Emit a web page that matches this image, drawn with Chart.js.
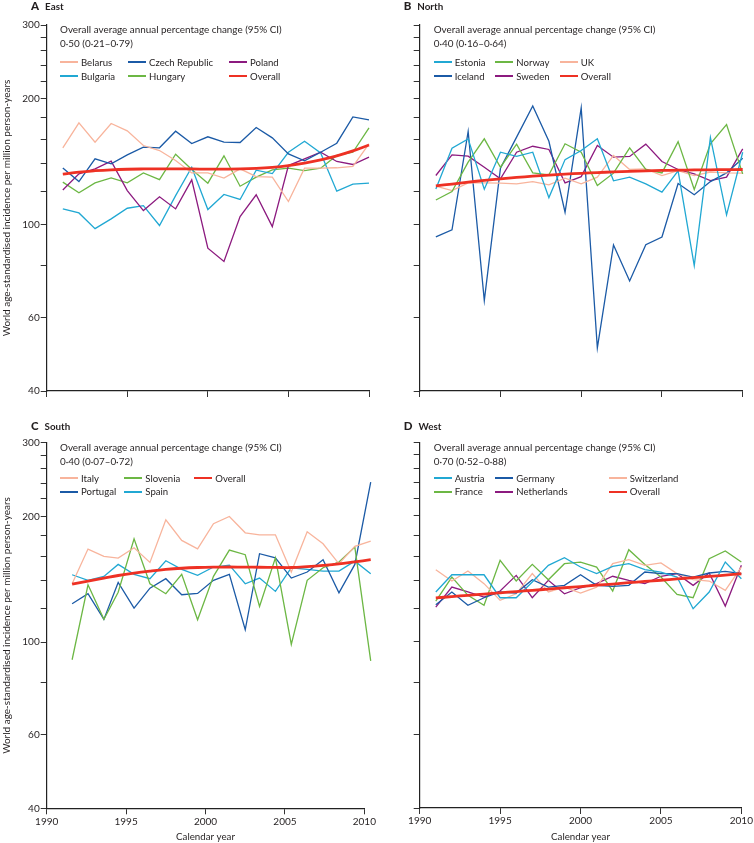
<!DOCTYPE html>
<html>
<head>
<meta charset="utf-8">
<script src="https://cdn.jsdelivr.net/npm/chart.js@4.4.1/dist/chart.umd.min.js"></script>
<style>
  html, body { margin: 0; padding: 0; background: #fff; }
  #wrap { position: relative; width: 754px; height: 843px; font-family: Lato, 'Liberation Sans', sans-serif; color: #231f20; }
  .panel { position: absolute; }
  .panel canvas { position: absolute; left: 0; top: 0; }
  .plab { position: absolute; font-weight: bold; font-size: 9.8px; line-height: 12px; white-space: nowrap; }
  .plab b { font-size: 11.5px; margin-right: 6px; }
  .head { position: absolute; line-height: 13.5px; white-space: nowrap; }
  .li { position: absolute; height: 14px; white-space: nowrap; display: flex; align-items: center; }
  .li i { display: inline-block; width: 18px; height: 2px; margin-right: 3px; flex: none; }
</style>
</head>
<body>
<div id="wrap"></div>
<script>
/* ---- dati (incidenza standardizzata per milione) ---- */
const years = [1991, 1992, 1993, 1994, 1995, 1996, 1997, 1998, 1999, 2000,
               2001, 2002, 2003, 2004, 2005, 2006, 2007, 2008, 2009, 2010];
// nel pannello Sud i punti sono spostati di circa mezzo anno
const southYears = [1991.6, 1992.6, 1993.6, 1994.5, 1995.5, 1996.5, 1997.5, 1998.5, 1999.5, 2000.5,
                    2001.5, 2002.5, 2003.4, 2004.4, 2005.4, 2006.4, 2007.4, 2008.4, 2009.4, 2010.4];
const xTicks = [1990, 1995, 2000, 2005, 2010];
const yTicks = [40, 60, 80, 100, 120, 140, 160, 180, 200, 220, 240, 260, 280, 300];
const yLabels = [40, 60, 100, 200, 300];

// East
const eastBelarus  = [152.6, 175, 157.4, 174.4, 167.5, 154.5, 150.3, 142.3, 132.9, 132.9, 129.1, 135.9, 130.2, 129.8, 113.5, 136.4, 136.4, 136.7, 137.7, 156];
const eastCzech    = [136.6, 126.7, 143.6, 139.7, 146.8, 153.1, 152.6, 167.2, 156.2, 162.1, 157.4, 157.1, 170.6, 161.2, 147.6, 142, 148.9, 156.5, 180.9, 178];
const eastPoland   = [121, 132.2, 135.9, 141.8, 120.6, 108, 116.5, 109, 127.9, 87.8, 81.6, 104.5, 117.8, 98.9, 138.4, 143.6, 148.9, 141.5, 139.2, 144.9];
const eastBulgaria = [109, 106.6, 97.8, 103.2, 109.4, 111, 99.5, 117.3, 137.1, 108.6, 118, 114.8, 134.9, 132.4, 148.9, 158.2, 148.3, 120.2, 124.9, 125.6];
const eastHungary  = [126.3, 119.1, 125.8, 129.3, 125.8, 132.9, 128.1, 147.3, 135.4, 125.6, 146, 123.5, 129.8, 135.1, 136.4, 134.6, 136.4, 146.3, 148.9, 170.3];
const eastOverall  = [132, 133.5, 134.5, 135.2, 135.6, 135.8, 135.9, 135.9, 135.8, 135.7, 135.7, 135.8, 136.2, 137, 138.3, 140.2, 142.8, 146, 150, 155];

// North
const northEstonia = [121.7, 152.3, 160.3, 121.5, 148.9, 145.5, 148.9, 116, 143, 150.3, 160.3, 127.2, 129.8, 125.1, 119.5, 134.4, 79.8, 161.5, 105.5, 148.9];
const northNorway  = [114.5, 119.9, 141, 160.3, 137.1, 155.7, 132.9, 131.5, 156, 148.9, 124, 132.7, 152.6, 135.4, 132.9, 157.9, 121.3, 156, 173.5, 132.2];
const northUK      = [123.5, 120.6, 125.8, 125.8, 125.6, 125.1, 126.7, 124.4, 129.1, 125.1, 129.8, 146.3, 135.4, 135.9, 131, 134.6, 131, 133.4, 132.9, 132.7];
const northIceland = [93.4, 97.1, 166.9, 65.8, 136.4, 161.8, 192.2, 158.2, 107, 190.1, 50.7, 89.4, 73.3, 89.5, 93.4, 125.3, 117.8, 126.7, 132.9, 144.1];
const northSweden  = [131, 146.8, 145.7, 137.1, 128.6, 148.9, 153.9, 151.2, 125.8, 130.2, 154.5, 144.9, 145.5, 155.7, 141.5, 135.4, 132.2, 127.4, 129.8, 151.7];
const northOverall = [123.7, 125, 126.3, 127.5, 128.6, 129.6, 130.5, 131.3, 132, 132.6, 133.1, 133.6, 134, 134.4, 134.7, 134.9, 135.1, 135.2, 135.3, 135.4];

// South
const southItaly    = [137.9, 166.9, 160.3, 158.8, 168.1, 155.1, 196.1, 175.1, 167.2, 191.9, 199.8, 182.6, 180.6, 180.6, 147.1, 183.6, 171.9, 153.9, 169.4, 174.4];
const southSlovenia = [90.7, 137.1, 113.3, 131.6, 176.7, 137.9, 130.5, 145.2, 113.1, 143.6, 166, 161.8, 121.7, 159.1, 98.7, 140.5, 150.6, 155.4, 168.8, 90.1];
const southPortugal = [123.5, 130.5, 113.3, 138.9, 120.6, 134.6, 141.8, 129.8, 130.7, 140.5, 145.2, 107, 162.7, 159.1, 142.3, 147.1, 157.4, 131.2, 153.4, 241.4];
const southSpain    = [144.9, 140.5, 143.6, 153.4, 145.2, 141.8, 156.5, 149.2, 144.4, 151.2, 152.8, 137.9, 142.3, 132.2, 150.6, 149.2, 147.8, 147.8, 156.2, 145.7];
const southOverall  = [137.6, 139.9, 142.2, 144.3, 146.2, 147.8, 149.2, 150.2, 150.8, 151.1, 151.2, 151.1, 151, 150.9, 150.8, 151.5, 152.5, 153.8, 155.6, 157.4];

// West
const westAustria     = [131.5, 144.6, 144.6, 144.6, 127.4, 127.4, 138.9, 152.3, 158.8, 150.9, 145.5, 151.4, 153.7, 148.7, 146.8, 142.8, 119.9, 131.5, 155.1, 141.5];
const westGermany     = [122.6, 131.5, 122.2, 127.4, 131.5, 130.7, 140.7, 135.1, 136.4, 144.6, 136.4, 135.6, 136.4, 146.8, 145.5, 145.5, 142.8, 146, 147.3, 145.5];
const westSwitzerland = [148.7, 139.7, 147.6, 137.7, 125.6, 130.2, 145.5, 131.5, 135.1, 130.7, 135.1, 153.7, 157.1, 152.3, 154.3, 145.5, 140.7, 139.7, 132.7, 150.9];
const westFrance      = [125.1, 142.8, 129.1, 122.2, 156.5, 139.7, 153.1, 140.7, 153.7, 155.1, 150.9, 132.2, 166, 153.1, 142.8, 129.8, 127.4, 157.9, 164.8, 155.1];
const westNetherlands = [121, 135.1, 131.5, 127.9, 132.2, 144.1, 127.4, 140.2, 130.2, 134.6, 137.7, 143.4, 140.2, 137.7, 143.4, 145.5, 136.4, 146, 121.7, 152.3];
const westOverall     = [127.3, 128.2, 129.1, 130.0, 130.9, 131.8, 132.7, 133.6, 134.6, 135.5, 136.5, 137.4, 138.4, 139.4, 140.3, 141.3, 142.3, 143.3, 144.3, 145.4];

/* ---- colori e font ---- */
const C = {
  salmon: '#f8b49c', blue: '#1b5aa6', purple: '#8c1a7f',
  cyan: '#21a8d3', green: '#6cb744', red: '#ee3124'
};
const FONT = 'Lato, "Liberation Sans", sans-serif';
const INK = '#231f20';
const HEAD = 'Overall average annual percentage change (95% CI)';
const Y_TITLE = 'World age-standardised incidence per million person-years';
const X_TITLE = 'Calendar year';

// font size scelta perché il testo abbia la larghezza dell'originale
const mctx = document.createElement('canvas').getContext('2d');
function fitCanvas(text, width) {
  mctx.font = `20px ${FONT}`;
  return +(20 * width / mctx.measureText(text).width).toFixed(2);
}
function fitHtml(text, width) {
  const s = document.createElement('span');
  s.style.cssText = `position:absolute;left:0;top:0;visibility:hidden;white-space:nowrap;font-size:20px;font-family:${FONT}`;
  s.textContent = text;
  document.body.appendChild(s);
  const w = s.getBoundingClientRect().width;
  s.remove();
  return +(20 * width / w).toFixed(2);
}
const headSize = fitHtml(HEAD, 222);
const legSize = fitHtml('Czech Republic', 64);
const tickSize = fitCanvas('1990', 23.3);
const yTitleSize = fitCanvas(Y_TITLE, 257);
const xTitleSize = fitCanvas(X_TITLE, 59);

/* ---- pannelli: posizione, area del grafico, serie e legenda ---- */
const panels = [
  { letter: 'A', name: 'East', left: 0, top: 0, h: 420, area: { l: 46.7, r: 369, t: 25, b: 391 },
    yLab: true, xLab: false, xs: years, apc: '0·50 (0·21–0·79)', cols: [60, 128, 229], rows: [62, 76],
    series: [['Belarus', eastBelarus, C.salmon], ['Czech Republic', eastCzech, C.blue], ['Poland', eastPoland, C.purple],
             ['Bulgaria', eastBulgaria, C.cyan], ['Hungary', eastHungary, C.green], ['Overall', eastOverall, C.red]] },
  { letter: 'B', name: 'North', left: 377, top: 0, h: 420, area: { l: 42.7, r: 365.7, t: 25, b: 391 },
    yLab: false, xLab: false, xs: years, apc: '0·40 (0·16–0·64)', cols: [56.7, 118.3, 182.7], rows: [62, 76],
    series: [['Estonia', northEstonia, C.cyan], ['Norway', northNorway, C.green], ['UK', northUK, C.salmon],
             ['Iceland', northIceland, C.blue], ['Sweden', northSweden, C.purple], ['Overall', northOverall, C.red]] },
  { letter: 'C', name: 'South', left: 0, top: 420, h: 423, area: { l: 46.7, r: 369.3, t: 22.7, b: 388.3 },
    yLab: true, xLab: true, xs: southYears, apc: '0·40 (0·07–0·72)', cols: [60, 124.3, 194.3], rows: [58.3, 71.7],
    series: [['Italy', southItaly, C.salmon], ['Slovenia', southSlovenia, C.green], ['Overall', southOverall, C.red],
             ['Portugal', southPortugal, C.blue], ['Spain', southSpain, C.cyan]] },
  { letter: 'D', name: 'West', left: 377, top: 420, h: 423, area: { l: 42.7, r: 365.7, t: 22.3, b: 388 },
    yLab: false, xLab: true, xs: years, apc: '0·70 (0·52–0·88)', cols: [56.7, 118.3, 231.7], rows: [58.3, 71.7],
    series: [['Austria', westAustria, C.cyan], ['Germany', westGermany, C.blue], ['Switzerland', westSwitzerland, C.salmon],
             ['France', westFrance, C.green], ['Netherlands', westNetherlands, C.purple], ['Overall', westOverall, C.red]] }
];

const wrap = document.getElementById('wrap');

function addLegend(div, p) {
  const isTop = p.top === 0;
  const head = document.createElement('div');
  head.className = 'head';
  head.style.fontSize = headSize + 'px';
  head.style.left = p.cols[0] + 'px';
  head.style.top = (isTop ? 23.3 : 21) + 'px';
  head.innerHTML = HEAD + '<br>' + p.apc;
  div.appendChild(head);

  p.series.forEach(([label, , color], i) => {
    const it = document.createElement('div');
    it.className = 'li';
    it.style.fontSize = legSize + 'px';
    it.style.left = p.cols[i % 3] + 'px';
    it.style.top = (p.rows[Math.floor(i / 3)] - 7) + 'px';
    it.innerHTML = `<i style="background:${color}"></i>${label}`;
    div.appendChild(it);
  });

  const lab = document.createElement('div');
  lab.className = 'plab';
  lab.style.left = (p.left ? 26.7 : 31) + 'px';
  lab.style.top = '0px';
  lab.innerHTML = `<b>${p.letter}</b>${p.name}`;
  div.appendChild(lab);
}

function render(p) {
  const div = document.createElement('div');
  div.className = 'panel';
  Object.assign(div.style, { left: p.left + 'px', top: p.top + 'px', width: '377px', height: p.h + 'px' });
  const cv = document.createElement('canvas');
  cv.width = 377; cv.height = p.h;
  cv.style.width = '377px'; cv.style.height = p.h + 'px';
  div.appendChild(cv);
  wrap.appendChild(div);
  addLegend(div, p);

  const datasets = p.series.map(([label, vals, color]) => {
    const overall = label === 'Overall';
    return {
      label,
      data: vals.map((v, i) => ({ x: p.xs[i], y: v })),
      borderColor: color,
      borderWidth: overall ? 2.8 : 1.3,
      pointRadius: 0,
      tension: overall ? 0.4 : 0,
      order: overall ? 0 : 1,
      clip: false
    };
  });

  const tickFont = { family: FONT, size: tickSize };
  new Chart(cv, {
    type: 'line',
    data: { datasets },
    options: {
      responsive: false, animation: false, devicePixelRatio: 1,
      layout: { padding: { left: 0, top: p.area.t, right: 377 - p.area.r, bottom: 0 } },
      plugins: { legend: { display: false }, tooltip: { enabled: false } },
      scales: {
        x: {
          type: 'linear', min: 1990, max: 2010,
          afterBuildTicks: ax => { ax.ticks = xTicks.map(v => ({ value: v })); },
          afterFit: ax => { ax.height = p.h - p.area.b; },
          ticks: { autoSkip: false, maxRotation: 0, padding: 1, color: INK, font: tickFont,
                   callback: v => p.xLab ? String(v) : '' },
          grid: { drawOnChartArea: false, tickLength: 6, color: '#333' },
          border: { color: '#222', width: 1.2 },
          title: { display: p.xLab, text: X_TITLE, color: INK, font: { family: FONT, size: xTitleSize }, padding: 0 }
        },
        y: {
          type: 'logarithmic', min: 40, max: 300,
          afterBuildTicks: ax => { ax.ticks = yTicks.map(v => ({ value: v })); },
          afterFit: ax => { ax.width = p.area.l; },
          ticks: { autoSkip: false, padding: 1, color: INK, font: tickFont,
                   callback: v => (p.yLab && yLabels.includes(v)) ? String(v) : '' },
          grid: { drawOnChartArea: false, tickLength: 6, color: '#333' },
          border: { color: '#222', width: 1.2 },
          title: { display: p.yLab, text: Y_TITLE, color: INK, font: { family: FONT, size: yTitleSize }, padding: { top: 1 } }
        }
      }
    }
  });
}

panels.forEach(render);
</script>
</body>
</html>
